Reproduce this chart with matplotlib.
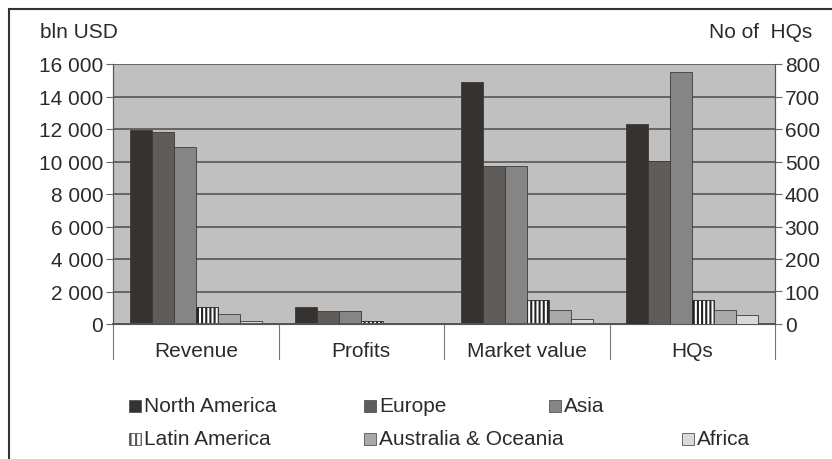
import matplotlib.pyplot as plt
import numpy as np
from matplotlib.patches import Rectangle
from matplotlib.ticker import FuncFormatter

plt.rcParams['font.family'] = ['Liberation Sans', 'DejaVu Sans']
plt.rcParams['hatch.linewidth'] = 1.5

categories = ["Revenue", "Profits", "Market value", "HQs"]
regions = ["North America", "Europe", "Asia", "Latin America", "Australia & Oceania", "Africa"]

# bln USD for the first three groups, number of HQs for the last one
north_america = [11950, 1020, 14900, 614]
europe = [11800, 780, 9700, 502]
asia = [10870, 830, 9700, 774]
latin_america = [1020, 200, 1480, 74]
australia_oceania = [630, 60, 870, 44]
africa = [165, 25, 300, 28]

series = [north_america, europe, asia, latin_america, australia_oceania, africa]
colors = ["#35322f", "#5f5c5a", "#858585", "white", "#a9a9a9", "#d9d9d9"]
hatches = [None, None, None, "||||", None, None]

TXT = "#2b2b2b"

fig = plt.figure(figsize=(8.32, 4.6), dpi=100)
ax = fig.add_axes([113 / 832, 135 / 460, 662 / 832, 260 / 460])
ax2 = ax.twinx()

ax.set_facecolor("#c0c0c0")
ax.set_xlim(0, 4)
ax.set_ylim(0, 16000)
ax2.set_ylim(0, 800)

width = 0.8 / 6
x = np.arange(len(categories)) + 0.5
for i, (vals, col, h) in enumerate(zip(series, colors, hatches)):
    pos = x - 0.4 + width * (i + 0.5)
    ec = "#222222" if h else "#3a3a3a"
    ax.bar(pos[:3], vals[:3], width=width, color=col, edgecolor=ec,
           linewidth=0.6, hatch=h, zorder=3)
    ax2.bar(pos[3], vals[3], width=width, color=col, edgecolor=ec,
            linewidth=0.6, hatch=h, zorder=3)

ax.set_yticks(np.arange(0, 16001, 2000))
ax.yaxis.set_major_formatter(FuncFormatter(lambda v, p: f"{int(v):,}".replace(",", " ")))
ax2.set_yticks(np.arange(0, 801, 100))
ax.grid(axis="y", color="#5e5e5e", linewidth=1.3, zorder=1)
ax.set_axisbelow(True)
ax.set_xticks([])

for a in (ax, ax2):
    a.tick_params(axis="y", labelsize=15, colors=TXT, length=5, width=0.8,
                  color="#666666", pad=2)
    for s in a.spines.values():
        s.set_color("#555555")
        s.set_linewidth(0.8)
ax2.spines["top"].set_visible(False)
ax.spines["top"].set_visible(False)
ax2.spines["bottom"].set_linewidth(1.3)

# category separators under the plot
for xs in range(5):
    ax.plot([xs, xs], [0, -35 / 260 * 16000], color="#777777", lw=0.8,
            clip_on=False, zorder=2)
for xi, name in zip(x, categories):
    ax.text(xi, -27 / 260 * 16000, name, ha="center", va="center",
            fontsize=15, color=TXT)

fig.text(40 / 832, 1 - 33 / 460, "bln USD", fontsize=15, color=TXT,
         ha="left", va="center")
fig.text(812 / 832, 1 - 33 / 460, "No of  HQs", fontsize=15, color=TXT,
         ha="right", va="center")

# legend, laid out by hand
legend_pos = [(135, 407), (370, 407), (555, 407), (135, 440), (370, 440), (688, 440)]
sq = 12
for (px, py), name, col, h in zip(legend_pos, regions, colors, hatches):
    fig.patches.append(Rectangle(((px - sq / 2) / 832, 1 - (py + sq / 2) / 460),
                                 sq / 832, sq / 460, transform=fig.transFigure,
                                 facecolor=col, edgecolor="#555555", lw=0.6,
                                 hatch="|||" if h else None))
    fig.text((px + 9) / 832, 1 - py / 460, name, fontsize=15, color=TXT,
             ha="left", va="center")

# outer frame
fig.patches.append(Rectangle((9 / 832, -0.1), 1.1, 1.1 - 10 / 460,
                             transform=fig.transFigure, fill=False,
                             edgecolor="#333333", lw=1.5))

fig.savefig("out.png", dpi=100)
